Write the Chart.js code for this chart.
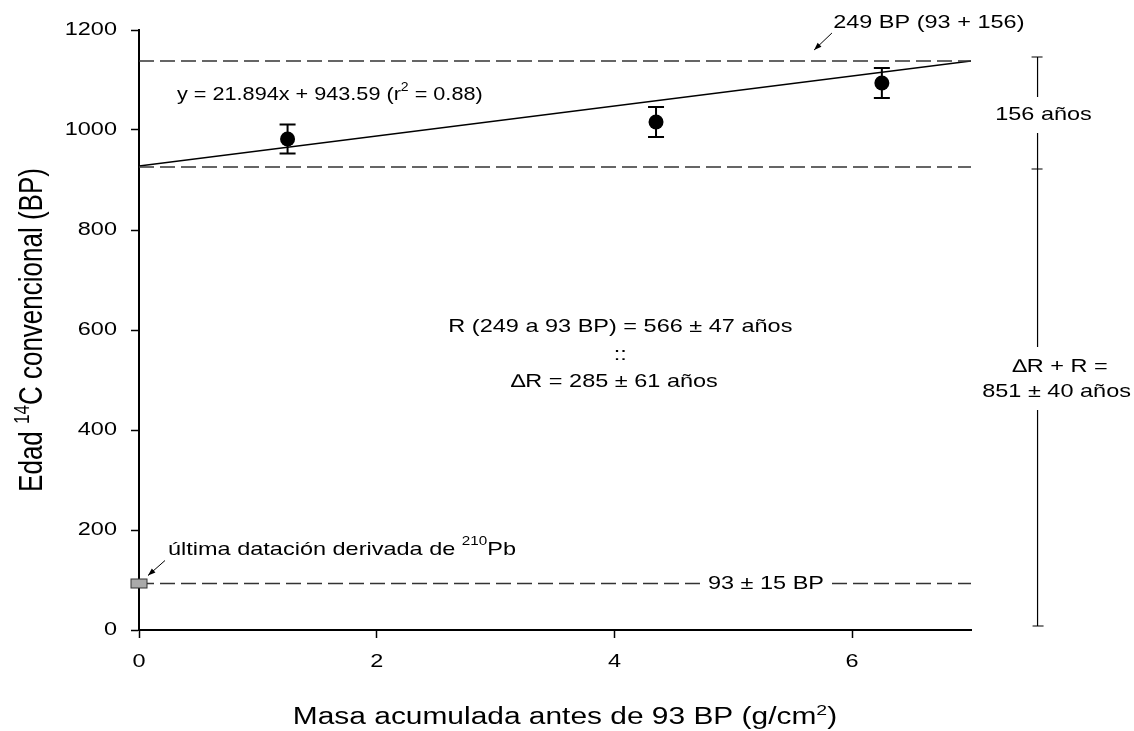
<!DOCTYPE html>
<html>
<head>
<meta charset="utf-8">
<script src="https://cdn.jsdelivr.net/npm/chart.js@4/dist/chart.umd.min.js"></script>
<style>
html, body { margin: 0; padding: 0; background: #ffffff; }
#wrap { width: 1134px; height: 731px; }
</style>
</head>
<body>
<div id="wrap"><canvas id="display-chart" width="1134" height="731"></canvas></div>
<script>
// Samples: accumulated mass vs conventional 14C age
var massValues = [1.25, 4.35, 6.25];
var ageValues = [982, 1016, 1094];
var ageErrors = [29, 30, 30];

// Fitted line as drawn
var fitX = [0, 7];
var fitY = [928, 1138];

// Reference levels
var upperAge = 1138;   // 249 BP (93 + 156)
var lowerAge = 926;
var pbAge = 93;        // última datación 210Pb

// Bracket on the right side (age values)
var bracketMass = 7.56;
var bracketTop = 1146;
var bracketMid = 922;
var bracketBottom = 8;

var xTicks = [0, 2, 4, 6];
var yTicks = [0, 200, 400, 600, 800, 1000, 1200];

var fontFamily = '"Liberation Sans", Arial, Helvetica, sans-serif';
var stretch = 1.27;  // text in the original is drawn wide

// draw text parts ([text, isSup]) at the current origin
function drawParts(ctx, parts, size, align) {
    var supSize = Math.round(size * 0.65);
    var widths = [], total = 0;
    for (var i = 0; i < parts.length; i++) {
        ctx.font = (parts[i][1] ? supSize : size) + 'px ' + fontFamily;
        widths.push(ctx.measureText(parts[i][0]).width);
        total += widths[i];
    }
    var cx = 0;
    if (align == 'center') cx = -total / 2;
    if (align == 'right') cx = -total;
    ctx.textAlign = 'left';
    for (var j = 0; j < parts.length; j++) {
        ctx.font = (parts[j][1] ? supSize : size) + 'px ' + fontFamily;
        ctx.fillText(parts[j][0], cx, parts[j][1] ? -size * 0.4 : 0);
        cx += widths[j];
    }
}

function drawWide(ctx, parts, x, y, align, sx) { // horizontal text, middle baseline
    ctx.save();
    ctx.translate(x, y);
    ctx.scale(sx || stretch, 1);
    ctx.textBaseline = 'middle';
    drawParts(ctx, parts, 18.5, align);
    ctx.restore();
}

function drawArrow(ctx, x1, y1, x2, y2) { // head at x2,y2
    var a = Math.atan2(y2 - y1, x2 - x1);
    ctx.beginPath();
    ctx.moveTo(x1, y1);
    ctx.lineTo(x2, y2);
    ctx.stroke();
    ctx.beginPath();
    ctx.moveTo(x2, y2);
    ctx.lineTo(x2 - 8 * Math.cos(a - 0.35), y2 - 8 * Math.sin(a - 0.35));
    ctx.lineTo(x2 - 8 * Math.cos(a + 0.35), y2 - 8 * Math.sin(a + 0.35));
    ctx.closePath();
    ctx.fill();
}

var overlayPlugin = {
    id: 'overlay',
    beforeDatasetsDraw: function (chart) { // error bars under the dots
        var ctx = chart.ctx, xs = chart.scales.x, ys = chart.scales.y;
        ctx.save();
        ctx.strokeStyle = '#000';
        ctx.lineWidth = 2;
        for (var i = 0; i < massValues.length; i++) {
            var px = xs.getPixelForValue(massValues[i]);
            var top = ys.getPixelForValue(ageValues[i] + ageErrors[i]);
            var bot = ys.getPixelForValue(ageValues[i] - ageErrors[i]);
            ctx.beginPath();
            ctx.moveTo(px, top); ctx.lineTo(px, bot);
            ctx.moveTo(px - 8, top); ctx.lineTo(px + 8, top);
            ctx.moveTo(px - 8, bot); ctx.lineTo(px + 8, bot);
            ctx.stroke();
        }
        ctx.restore();
    },
    afterDraw: function (chart) {
        var ctx = chart.ctx, xs = chart.scales.x, ys = chart.scales.y;
        var area = chart.chartArea;
        ctx.save();
        ctx.fillStyle = '#000';
        ctx.strokeStyle = '#000';
        ctx.lineWidth = 1;

        // tick labels from the scales
        ys.ticks.forEach(function (t) {
            drawWide(ctx, [[String(t.value), false]], area.left - 22, ys.getPixelForValue(t.value), 'right');
        });
        xs.ticks.forEach(function (t) {
            drawWide(ctx, [[String(t.value), false]], xs.getPixelForValue(t.value), area.bottom + 32, 'center');
        });

        // axis titles
        ctx.save();
        ctx.translate((area.left + area.right) / 2 + 10, 724);
        ctx.scale(stretch + 0.03, 1);
        ctx.textBaseline = 'alphabetic';
        drawParts(ctx, [['Masa acumulada antes de 93 BP (g/cm', false], ['2', true], [')', false]], 23, 'center');
        ctx.restore();
        ctx.save();
        ctx.translate(42, (area.top + area.bottom) / 2);
        ctx.rotate(-Math.PI / 2);
        ctx.scale(1, stretch);
        ctx.textBaseline = 'alphabetic';
        drawParts(ctx, [['Edad ', false], ['14', true], ['C convencional (BP)', false]], 26, 'center');
        ctx.restore();

        // 93 BP label on the dashed line
        var pbY = ys.getPixelForValue(pbAge);
        var lx = xs.getPixelForValue(5.275);
        ctx.fillStyle = '#fff';
        ctx.fillRect(lx - 66, pbY - 6, 132, 12);
        ctx.fillStyle = '#000';
        drawWide(ctx, [['93 ± 15 BP', false]], lx, pbY, 'center');

        // grey marker for the 210Pb date
        var mx = xs.getPixelForValue(0);
        ctx.fillStyle = '#aaaaaa';
        ctx.fillRect(mx - 8, pbY - 4.5, 16, 9);
        ctx.strokeStyle = '#333';
        ctx.strokeRect(mx - 8, pbY - 4.5, 16, 9);
        ctx.fillStyle = '#000';
        ctx.strokeStyle = '#000';

        drawWide(ctx, [['última datación derivada de ', false], ['210', true], ['Pb', false]], mx + 29, pbY - 34, 'left');
        drawArrow(ctx, mx + 26, pbY - 23, mx + 9, pbY - 8);

        // equation
        drawWide(ctx, [['y = 21.894x + 943.59 (r', false], ['2', true], [' = 0.88)', false]], xs.getPixelForValue(0.32), ys.getPixelForValue(1070), 'left', 1.17);

        // 249 BP label
        var uy = ys.getPixelForValue(upperAge);
        drawWide(ctx, [['249 BP (93 + 156)', false]], xs.getPixelForValue(5.84), uy - 38, 'left');
        drawArrow(ctx, xs.getPixelForValue(5.83), uy - 28, xs.getPixelForValue(5.68), uy - 11);

        // centre text
        drawWide(ctx, [['R (249 a 93 BP) = 566 ± 47 años', false]], xs.getPixelForValue(4.05), ys.getPixelForValue(606), 'center');
        drawWide(ctx, [['::', false]], xs.getPixelForValue(4.05), ys.getPixelForValue(550), 'center');
        drawWide(ctx, [['\u2206R = 285 ± 61 años', false]], xs.getPixelForValue(4.0), ys.getPixelForValue(496), 'center');

        // right bracket
        var bx = xs.getPixelForValue(bracketMass);
        var bTop = ys.getPixelForValue(bracketTop);
        var bMid = ys.getPixelForValue(bracketMid);
        var bBot = ys.getPixelForValue(bracketBottom);
        var gap1a = ys.getPixelForValue(1066), gap1b = ys.getPixelForValue(994);
        var gap2a = ys.getPixelForValue(566), gap2b = ys.getPixelForValue(440);
        ctx.lineWidth = 1.2;
        ctx.beginPath();
        ctx.moveTo(bx, bTop); ctx.lineTo(bx, gap1a);
        ctx.moveTo(bx, gap1b); ctx.lineTo(bx, gap2a);
        ctx.moveTo(bx, gap2b); ctx.lineTo(bx, bBot);
        ctx.moveTo(bx - 6, bTop); ctx.lineTo(bx + 5, bTop);
        ctx.moveTo(bx - 6, bMid); ctx.lineTo(bx + 5, bMid);
        ctx.moveTo(bx - 5, bBot); ctx.lineTo(bx + 6, bBot);
        ctx.stroke();
        drawWide(ctx, [['156 años', false]], xs.getPixelForValue(7.61), (gap1a + gap1b) / 2, 'center');
        drawWide(ctx, [['\u2206R + R =', false]], xs.getPixelForValue(7.75), ys.getPixelForValue(526), 'center');
        drawWide(ctx, [['851 ± 40 años', false]], xs.getPixelForValue(7.72), ys.getPixelForValue(476), 'center');
        ctx.restore();
    }
};

function hLine(y, x0, x1) {
    return [{ x: x0, y: y }, { x: x1, y: y }];
}

var ctx = document.getElementById('display-chart');
var ageChart = new Chart(ctx, {
    type: 'scatter',
    data: {
        datasets: [
            {
                data: hLine(upperAge, 0, 7), showLine: true, borderColor: '#333',
                borderWidth: 1.5, borderDash: [15, 6], pointRadius: 0
            },
            {
                data: hLine(lowerAge, 0, 7), showLine: true, borderColor: '#333',
                borderWidth: 1.5, borderDash: [15, 6], pointRadius: 0
            },
            {
                data: hLine(pbAge, 0, 7), showLine: true, borderColor: '#333',
                borderWidth: 1.5, borderDash: [15, 6], pointRadius: 0
            },
            {
                data: [{ x: fitX[0], y: fitY[0] }, { x: fitX[1], y: fitY[1] }],
                showLine: true, borderColor: '#000', borderWidth: 1.3, pointRadius: 0
            },
            {
                data: massValues.map(function (m, i) { return { x: m, y: ageValues[i] }; }),
                pointRadius: 7.5, backgroundColor: '#000', borderColor: '#000', pointBorderWidth: 0
            }
        ]
    },
    options: {
        responsive: false,
        animation: false,
        devicePixelRatio: 1,
        layout: { padding: { left: 0, top: 30, right: 163, bottom: 0 } },
        plugins: { legend: { display: false }, tooltip: { enabled: false } },
        scales: {
            x: {
                type: 'linear', min: 0, max: 7,
                afterBuildTicks: function (axis) { axis.ticks = xTicks.map(function (v) { return { value: v }; }); },
                afterFit: function (axis) { axis.height = 101; },
                border: { color: '#000', width: 2 },
                grid: { drawOnChartArea: false, tickLength: 8, tickColor: '#000', tickWidth: 1.5 },
                ticks: { display: false }
            },
            y: {
                type: 'linear', min: 0, max: 1200,
                afterBuildTicks: function (axis) { axis.ticks = yTicks.map(function (v) { return { value: v }; }); },
                afterFit: function (axis) { axis.width = 139; },
                border: { color: '#000', width: 2 },
                grid: { drawOnChartArea: false, tickLength: 8, tickColor: '#000', tickWidth: 1.5 },
                ticks: { display: false }
            }
        }
    },
    plugins: [overlayPlugin]
});
</script>
</body>
</html>
